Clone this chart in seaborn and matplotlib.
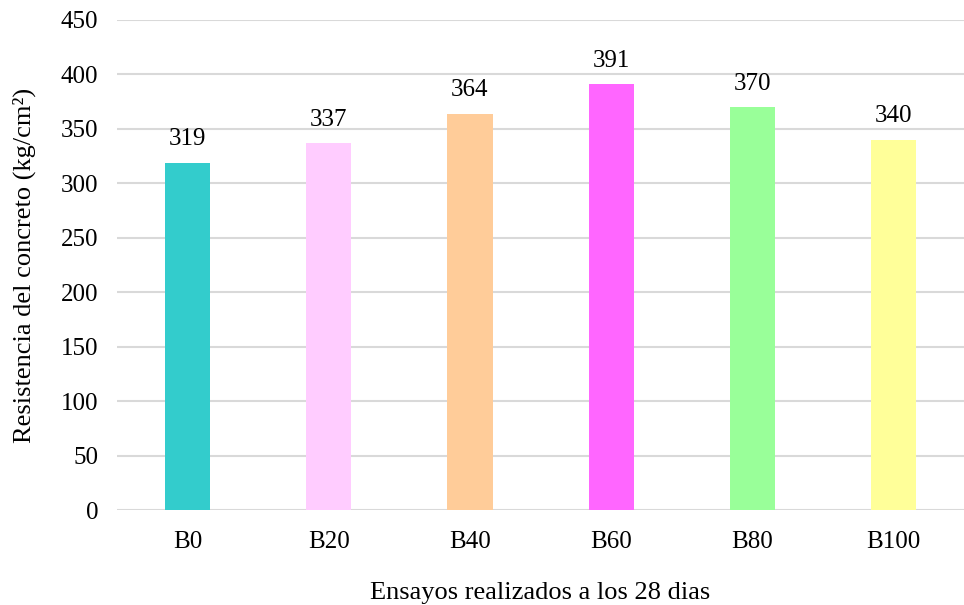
import matplotlib
matplotlib.use("Agg")
import matplotlib.pyplot as plt
import seaborn as sns
import pandas as pd

categories = ["B0", "B20", "B40", "B60", "B80", "B100"]
values = [319, 337, 364, 391, 370, 340]
colors = ["#33CCCC", "#FFCCFF", "#FFCC99", "#FF66FF", "#99FF99", "#FFFF99"]
y_ticks = [0, 50, 100, 150, 200, 250, 300, 350, 400, 450]

sns.set_theme(style="white")
plt.rcParams['font.family'] = ['Liberation Serif', 'DejaVu Serif']

df = pd.DataFrame({"cat": categories, "val": values})

fig = plt.figure(figsize=(9.64, 6.05), dpi=100)
ax = fig.add_axes([0.1214, 0.157, 0.8786, 0.81])

sns.barplot(data=df, x="cat", y="val", hue="cat", palette=colors, width=0.32,
            legend=False, ax=ax, saturation=1, edgecolor="none")

ax.set_ylim(0, 450)
ax.set_yticks(y_ticks)
ax.yaxis.grid(True, color="#D9D9D9", linewidth=1.5)
ax.set_axisbelow(True)
for s in ["top", "right", "left", "bottom"]:
    ax.spines[s].set_visible(False)
ax.tick_params(axis="both", length=0, labelsize=18, colors="black")
ax.tick_params(axis="x", pad=15)
ax.tick_params(axis="y", pad=13.5)

for i, v in enumerate(values):
    ax.annotate(str(v), (i, v), xytext=(0, 9), textcoords="offset points",
                ha="center", va="bottom", fontsize=18, color="black")

ax.set_xlabel("Ensayos realizados a los 28 dias", fontsize=19, labelpad=21, color="black")
ax.set_ylabel("Resistencia del concreto (kg/cm²)", fontsize=19, labelpad=18, color="black")

fig.savefig("out.png", dpi=100)
